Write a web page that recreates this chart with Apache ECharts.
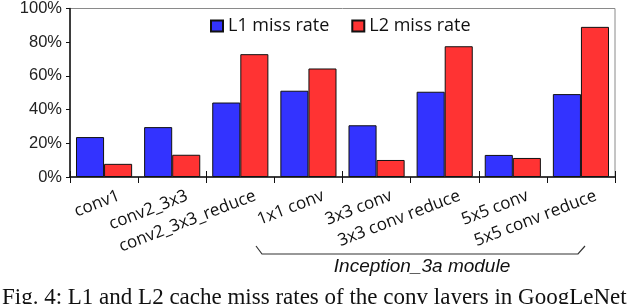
<!DOCTYPE html>
<html>
<head>
<meta charset="utf-8">
<script src="https://cdn.jsdelivr.net/npm/echarts@6/dist/echarts.min.js"></script>
<style>
html,body{margin:0;padding:0;background:#fff;}
#c{width:640px;height:304px;}
</style>
</head>
<body>
<div id="c"></div>
<script>
var categories = ['conv1','conv2_3x3','conv2_3x3_reduce','1x1 conv','3x3 conv','3x3 conv reduce','5x5 conv','5x5 conv reduce'];
var l1Rate = [23.7, 29.6, 44.2, 51.2, 30.7, 50.6, 13.1, 49.2];
var l2Rate = [7.8, 13.2, 72.9, 64.4, 10.1, 77.6, 11.3, 89.1];
var yTicks = [0, 20, 40, 60, 80, 100];
var seriesNames = ['L1 miss rate', 'L2 miss rate'];
var groupLabel = 'Inception_3a module';
var caption = 'Fig. 4: L1 and L2 cache miss rates of the conv layers in GoogLeNet';

var chart = echarts.init(document.getElementById('c'), null, {renderer: 'canvas'});
var option = {
  animation: false,
  backgroundColor: '#fff',
  grid: {left: 70, right: 25, top: 5, bottom: 127, show: true, borderColor: '#8a8a8a', borderWidth: 1},
  legend: {
    data: seriesNames,
    left: 205, top: 12,
    itemWidth: 12, itemHeight: 11, itemGap: 22,
    icon: 'rect',
    textStyle: {fontFamily: 'Open Sans', fontSize: 18, color: '#111'}
  },
  xAxis: [{
    type: 'category',
    data: categories,
    axisLine: {lineStyle: {color: '#111', width: 1.5}},
    axisTick: {show: true, length: 6, lineStyle: {color: '#111'}},
    axisLabel: {
      interval: 0, rotate: 21, margin: 24,
      fontFamily: 'Open Sans', fontSize: 17, color: '#111',
      padding: [0, -16, 0, 0]
    },
    splitLine: {show: false}
  }, {
    type: 'category',
    data: categories,
    position: 'bottom',
    axisLine: {show: false},
    axisTick: {show: true, inside: true, length: 6, lineStyle: {color: '#111'}},
    axisLabel: {show: false},
    splitLine: {show: false}
  }],
  yAxis: {
    type: 'value', min: yTicks[0], max: yTicks[yTicks.length-1], interval: 20,
    axisLine: {show: true, lineStyle: {color: '#111', width: 1.5}},
    axisTick: {show: true, length: 4, lineStyle: {color: '#111'}},
    axisLabel: {formatter: '{value}%', margin: 8, fontFamily: 'Liberation Sans', fontSize: 16.5, color: '#222'},
    splitLine: {show: false}
  },
  series: [{
    name: seriesNames[0], type: 'bar', data: l1Rate,
    barGap: 0, barCategoryGap: '17.6%',
    itemStyle: {color: '#3333ff', borderColor: '#111', borderWidth: 1}
  }, {
    name: seriesNames[1], type: 'bar', data: l2Rate,
    barGap: 0, barCategoryGap: '17.6%',
    itemStyle: {color: '#ff3333', borderColor: '#111', borderWidth: 1}
  }],
  graphic: [{
    type: 'polyline',
    shape: {points: [[256,246],[262,254],[578,254],[585,246]]},
    style: {stroke: '#333', lineWidth: 1.2, fill: null}
  }, {
    type: 'text',
    style: {text: groupLabel, x: 422, y: 257, align: 'center', verticalAlign: 'top',
      font: 'italic 19px "Liberation Sans"', fill: '#111'}
  }, {
    type: 'text',
    style: {text: caption, x: 2, y: 286, align: 'left', verticalAlign: 'top',
      font: '23px "Liberation Serif"', fill: '#111'}
  }]
};
chart.setOption(option);
</script>
</body>
</html>
